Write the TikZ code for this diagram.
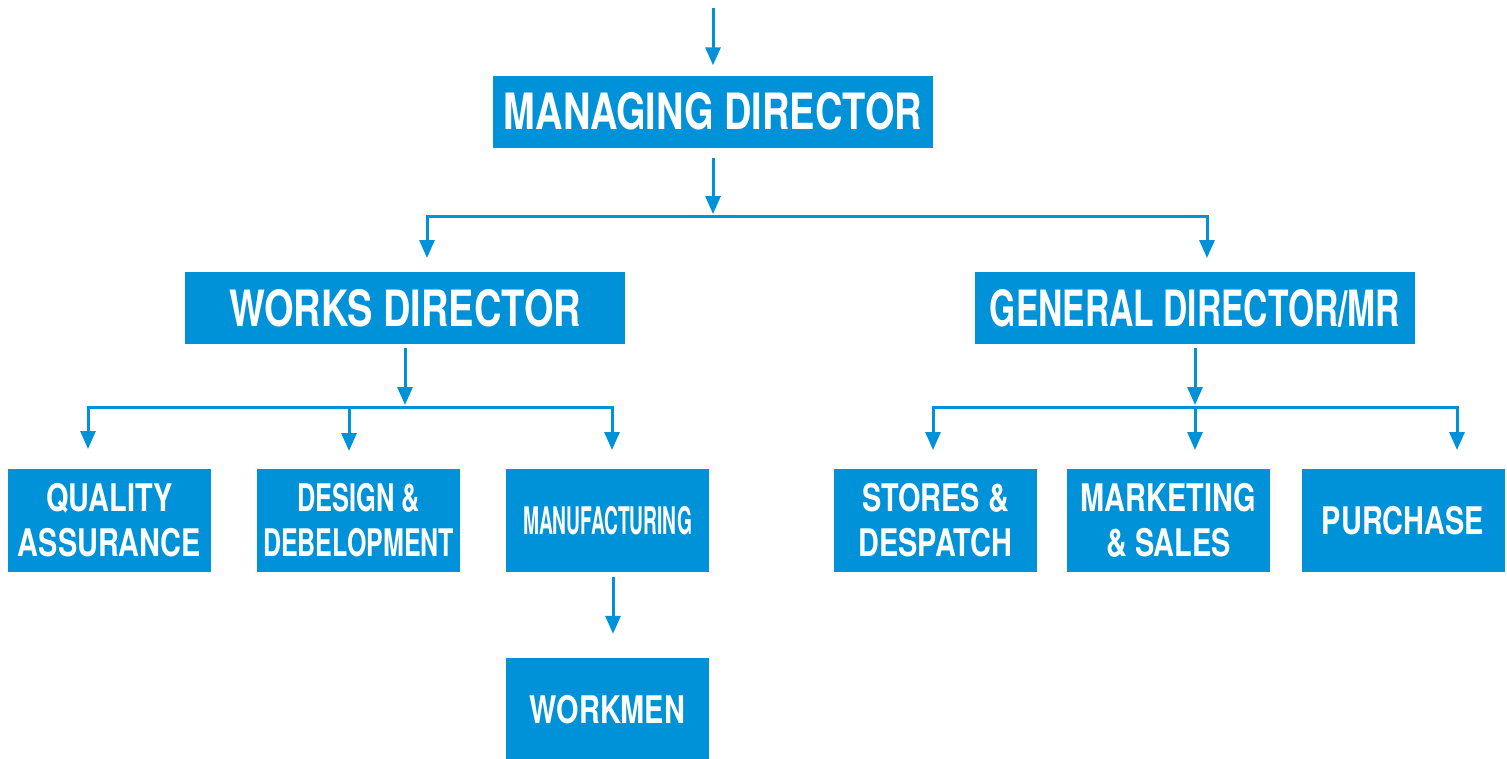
\documentclass[tikz,border=0pt]{standalone}
\usepackage{fontspec}
\setmainfont{TeX Gyre Heros}[FakeStretch=0.76]
\usetikzlibrary{arrows.meta}
\definecolor{orgblue}{RGB}{0,146,216}
\tikzset{
  bigbox/.style={fill=orgblue, text=white, inner sep=0pt, minimum width=440pt, minimum height=72pt, font=\bfseries\fontsize{50}{56}\selectfont, align=center},
  smallbox/.style={fill=orgblue, text=white, inner sep=0pt, minimum width=203pt, minimum height=103pt, font=\bfseries\fontsize{38}{45}\selectfont, align=center},
  conn/.style={draw=orgblue, line width=3pt},
  arr/.style={conn, -{Triangle[length=18pt,width=15pt]}}
}
\begin{document}
\begin{tikzpicture}[x=1pt,y=-1pt]
\useasboundingbox (0,0) rectangle (1507,758);
% nodes
\node[bigbox] (md) at (713,111.5) {MANAGING DIRECTOR};
\node[bigbox] (wd) at (405,308) {WORKS DIRECTOR};
\node[bigbox] (gd) at (1195,308) {\scalebox{0.885}[1]{GENERAL DIRECTOR/MR}};
\node[smallbox] (qa) at (109.5,520.5) {QUALITY\\ASSURANCE};
\node[smallbox] (dd) at (358.5,520.5) {\scalebox{0.88}[1]{DESIGN \&}\\\scalebox{0.866}[1]{DEBELOPMENT}};
\node[smallbox] (mf) at (607.5,520.5) {\scalebox{0.665}[1]{MANUFACTURING}};
\node[smallbox] (wm) at (607.5,709.5) {WORKMEN};
\node[smallbox] (sd) at (935.5,520.5) {STORES \&\\DESPATCH};
\node[smallbox] (ms) at (1168.5,520.5) {MARKETING\\\& SALES};
\node[smallbox] (pu) at (1403,520.5) {PURCHASE};
% junction coordinates
\coordinate (top) at (713,8);
\coordinate (j1) at (713,216);
\coordinate (wdin) at (427,258);
\coordinate (gdin) at (1207,258);
\coordinate (j2) at (405,407);
\coordinate (qain) at (88,449);
\coordinate (j2m) at (349,407);
\coordinate (ddin) at (349,451);
\coordinate (mfin) at (612,450);
\coordinate (j3) at (1195,407);
\coordinate (sdin) at (933,450);
\coordinate (msin) at (1195,450);
\coordinate (puin) at (1457,450);
% connectors
\draw[arr] (top) -- ([yshift=10pt]md.north);
\draw[arr] ([yshift=-10pt]md.south) -- ([yshift=2pt]j1);
\draw[arr] (j1) -| (wdin);
\draw[arr] (j1) -| (gdin);
\draw[arr] ([yshift=-4pt]wd.south) -- ([yshift=2pt]j2);
\draw[arr] (j2) -| (qain);
\draw[arr] (j2) -| (mfin);
\draw[arr] (j2m) -- (ddin);
\draw[arr] ([yshift=-4pt]gd.south) -- ([yshift=2pt]j3);
\draw[arr] (j3) -| (sdin);
\draw[arr] (j3) -| (puin);
\draw[arr] (j3) -- (msin);
\draw[arr] ([xshift=5.5pt,yshift=-5pt]mf.south) -- ([xshift=5.5pt,yshift=24pt]wm.north);
\end{tikzpicture}
\end{document}
